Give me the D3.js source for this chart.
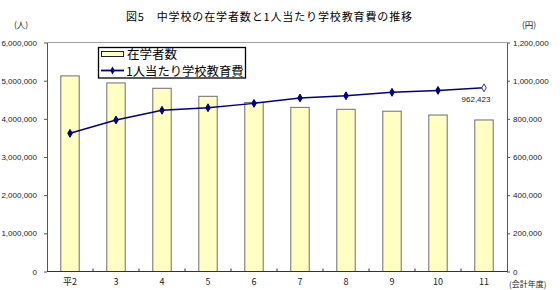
<!DOCTYPE html>
<html><head><meta charset="utf-8">
<script src="https://cdn.jsdelivr.net/npm/d3@7"></script>
<style>
html,body{margin:0;padding:0;background:#fff;}
svg{display:block;}
text{font-family:"Noto Sans CJK JP","Noto Sans",sans-serif;}
.num{font-family:"Liberation Sans Narrow","Liberation Sans",Arial,sans-serif;}
</style></head>
<body>
<script>
const years = ["平2","3","4","5","6","7","8","9","10","11"];
const students = [5125000, 4940000, 4800000, 4590000, 4430000, 4300000, 4250000, 4200000, 4100000, 3970000];
const costs = [724000, 794000, 845000, 858000, 881000, 909000, 921000, 939000, 949000, 962423];
const leftTicks = [0,1000000,2000000,3000000,4000000,5000000,6000000];
const rightTicks = [0,200000,400000,600000,800000,1000000,1200000];
const title = "図5　中学校の在学者数と1人当たり学校教育費の推移";
const seriesNames = ["在学者数","1人当たり学校教育費"];

const W=560,H=290;
const L=47,R=507,T=42.5,B=271.5;
const svg=d3.select("body").append("svg").attr("width",W).attr("height",H);

const x=d3.scaleBand().domain(years).range([L,R]);
const yL=d3.scaleLinear().domain([0,6000000]).range([B,T]);
const yR=d3.scaleLinear().domain([0,1200000]).range([B,T]);
const fmt=d3.format(",");

// title
svg.append("text").attr("x",126).attr("y",21).attr("font-size",11)
  .attr("textLength",286).attr("lengthAdjust","spacing").text(title);

// top border
svg.append("line").attr("x1",L).attr("x2",R).attr("y1",T).attr("y2",T)
  .attr("stroke","#a0a0a0").attr("stroke-width",1);

// bars
const bw=x.bandwidth()*0.4;
svg.append("g").selectAll("rect").data(years).join("rect")
  .attr("x",d=>x(d)+x.bandwidth()/2-bw/2)
  .attr("y",(d,i)=>yL(students[i]))
  .attr("width",bw)
  .attr("height",(d,i)=>B-yL(students[i]))
  .attr("fill","#ffffc4").attr("stroke","#6e6e6e").attr("stroke-width",1);

// left axis
const gL=svg.append("g").attr("transform",`translate(${L},0)`)
  .call(d3.axisLeft(yL).tickValues(leftTicks).tickFormat(fmt).tickSize(3).tickPadding(7).tickSizeOuter(0));
gL.select(".domain").attr("stroke","#555");
gL.selectAll(".tick line").attr("stroke","#555");
gL.selectAll("text").attr("class","num").attr("font-size",8).attr("fill","#222");

// right axis
const gR=svg.append("g").attr("transform",`translate(${R},0)`)
  .call(d3.axisRight(yR).tickValues(rightTicks).tickFormat(fmt).tickSize(3).tickPadding(3).tickSizeOuter(0));
gR.select(".domain").attr("stroke","#555");
gR.selectAll(".tick line").attr("stroke","#555");
gR.selectAll("text").attr("class","num").attr("font-size",8).attr("fill","#222");

// bottom axis
svg.append("line").attr("x1",L).attr("x2",R).attr("y1",B).attr("y2",B).attr("stroke","#333");
svg.append("g").selectAll("line").data(years.slice(1)).join("line")
  .attr("x1",d=>x(d)).attr("x2",d=>x(d)).attr("y1",B).attr("y2",B-3).attr("stroke","#333");
svg.append("g").selectAll("text").data(years).join("text")
  .attr("x",d=>x(d)+x.bandwidth()/2).attr("y",285).attr("text-anchor","middle")
  .attr("font-size",9).attr("fill","#222").text(d=>d);

// units
svg.append("text").attr("x",14).attr("y",28).attr("font-size",8.5).attr("fill","#222").text("(人)");
svg.append("text").attr("x",522).attr("y",28).attr("font-size",8.5).attr("fill","#222").text("(円)");
svg.append("text").attr("x",509).attr("y",287).attr("font-size",8).attr("fill","#222").text("(会計年度)");

// line
const cx=(d)=>x(d)+x.bandwidth()/2;
svg.append("path").datum(years)
  .attr("d",d3.line().x(d=>cx(d)).y((d,i)=>yR(costs[i])))
  .attr("fill","none").attr("stroke","#000080").attr("stroke-width",1.5);
const diamond=d3.symbol().type(d3.symbolDiamond).size(18);
svg.append("g").selectAll("path").data(years).join("path")
  .attr("transform",(d,i)=>`translate(${cx(d)},${yR(costs[i])})`)
  .attr("d",diamond)
  .attr("fill",(d,i)=>i===years.length-1?"#fff":"#000080")
  .attr("stroke",(d,i)=>i===years.length-1?"#3333aa":"#000080").attr("stroke-width",1);
svg.append("text").attr("class","num").attr("x",cx(years[years.length-1])-8).attr("y",102)
  .attr("text-anchor","middle").attr("font-size",8).attr("fill","#222")
  .text(fmt(costs[costs.length-1]));

// legend
const lg=svg.append("g");
lg.append("rect").attr("x",98.5).attr("y",47.5).attr("width",147).attr("height",30.5)
  .attr("fill","#fff").attr("stroke","#000").attr("stroke-width",1.3);
lg.append("rect").attr("x",101.5).attr("y",51.5).attr("width",22).attr("height",5)
  .attr("fill","#ffffc4").attr("stroke","#222").attr("stroke-width",1);
lg.append("text").attr("x",127).attr("y",59).attr("font-size",12.5).attr("fill","#000").text(seriesNames[0]);
lg.append("line").attr("x1",101).attr("x2",124).attr("y1",70.5).attr("y2",70.5)
  .attr("stroke","#000080").attr("stroke-width",1.8);
lg.append("path").attr("transform","translate(112.5,70.5)").attr("d",diamond).attr("fill","#000080");
lg.append("text").attr("x",126).attr("y",75.5).attr("font-size",12.3).attr("fill","#000").text(seriesNames[1]);
</script>
</body></html>
